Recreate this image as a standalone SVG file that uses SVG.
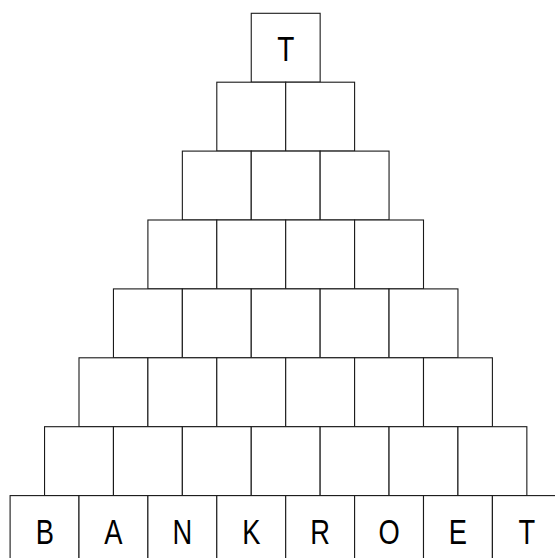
<svg xmlns="http://www.w3.org/2000/svg" width="555" height="558" viewBox="0 0 555 558">
<style>
rect.b{fill:#fff;stroke:#1a1a1a;stroke-width:1.1}
text.l{font-family:"Liberation Sans",Arial,sans-serif;font-size:35px;fill:#000;text-anchor:middle}
</style>
<defs><rect id="box" class="b" width="68.9" height="68.9"/></defs>
<rect width="555" height="558" fill="#fff"/>
<g id="connectors"/>
<g id="row0">
<g id="n0_0"><use href="#box" x="251.25" y="13.3"/><text class="l" transform="translate(285.7,61) scale(0.8,1)" font-size="36.5">T</text></g>
</g>
<g id="row1">
<g id="n1_0"><use href="#box" x="216.8" y="82.2"/></g>
<g id="n1_1"><use href="#box" x="285.7" y="82.2"/></g>
</g>
<g id="row2">
<g id="n2_0"><use href="#box" x="182.35" y="151.1"/></g>
<g id="n2_1"><use href="#box" x="251.25" y="151.1"/></g>
<g id="n2_2"><use href="#box" x="320.15" y="151.1"/></g>
</g>
<g id="row3">
<g id="n3_0"><use href="#box" x="147.9" y="220"/></g>
<g id="n3_1"><use href="#box" x="216.8" y="220"/></g>
<g id="n3_2"><use href="#box" x="285.7" y="220"/></g>
<g id="n3_3"><use href="#box" x="354.6" y="220"/></g>
</g>
<g id="row4">
<g id="n4_0"><use href="#box" x="113.45" y="288.9"/></g>
<g id="n4_1"><use href="#box" x="182.35" y="288.9"/></g>
<g id="n4_2"><use href="#box" x="251.25" y="288.9"/></g>
<g id="n4_3"><use href="#box" x="320.15" y="288.9"/></g>
<g id="n4_4"><use href="#box" x="389.05" y="288.9"/></g>
</g>
<g id="row5">
<g id="n5_0"><use href="#box" x="79" y="357.8"/></g>
<g id="n5_1"><use href="#box" x="147.9" y="357.8"/></g>
<g id="n5_2"><use href="#box" x="216.8" y="357.8"/></g>
<g id="n5_3"><use href="#box" x="285.7" y="357.8"/></g>
<g id="n5_4"><use href="#box" x="354.6" y="357.8"/></g>
<g id="n5_5"><use href="#box" x="423.5" y="357.8"/></g>
</g>
<g id="row6">
<g id="n6_0"><use href="#box" x="44.55" y="426.7"/></g>
<g id="n6_1"><use href="#box" x="113.45" y="426.7"/></g>
<g id="n6_2"><use href="#box" x="182.35" y="426.7"/></g>
<g id="n6_3"><use href="#box" x="251.25" y="426.7"/></g>
<g id="n6_4"><use href="#box" x="320.15" y="426.7"/></g>
<g id="n6_5"><use href="#box" x="389.05" y="426.7"/></g>
<g id="n6_6"><use href="#box" x="457.95" y="426.7"/></g>
</g>
<g id="row7">
<g id="n7_0"><use href="#box" x="10.1" y="495.6"/><text class="l" transform="translate(44.9,543.5) scale(0.78,1)">B</text></g>
<g id="n7_1"><use href="#box" x="79" y="495.6"/><text class="l" transform="translate(113.45,543.5) scale(0.78,1)">A</text></g>
<g id="n7_2"><use href="#box" x="147.9" y="495.6"/><text class="l" transform="translate(182.35,543.5) scale(0.78,1)">N</text></g>
<g id="n7_3"><use href="#box" x="216.8" y="495.6"/><text class="l" transform="translate(251.25,543.5) scale(0.78,1)">K</text></g>
<g id="n7_4"><use href="#box" x="285.7" y="495.6"/><text class="l" transform="translate(320.15,543.5) scale(0.78,1)">R</text></g>
<g id="n7_5"><use href="#box" x="354.6" y="495.6"/><text class="l" transform="translate(389.05,543.5) scale(0.78,1)">O</text></g>
<g id="n7_6"><use href="#box" x="423.5" y="495.6"/><text class="l" transform="translate(457.95,543.5) scale(0.78,1)">E</text></g>
<g id="n7_7"><use href="#box" x="492.4" y="495.6"/><text class="l" transform="translate(526.85,543.5) scale(0.78,1)">T</text></g>
</g>
</svg>
